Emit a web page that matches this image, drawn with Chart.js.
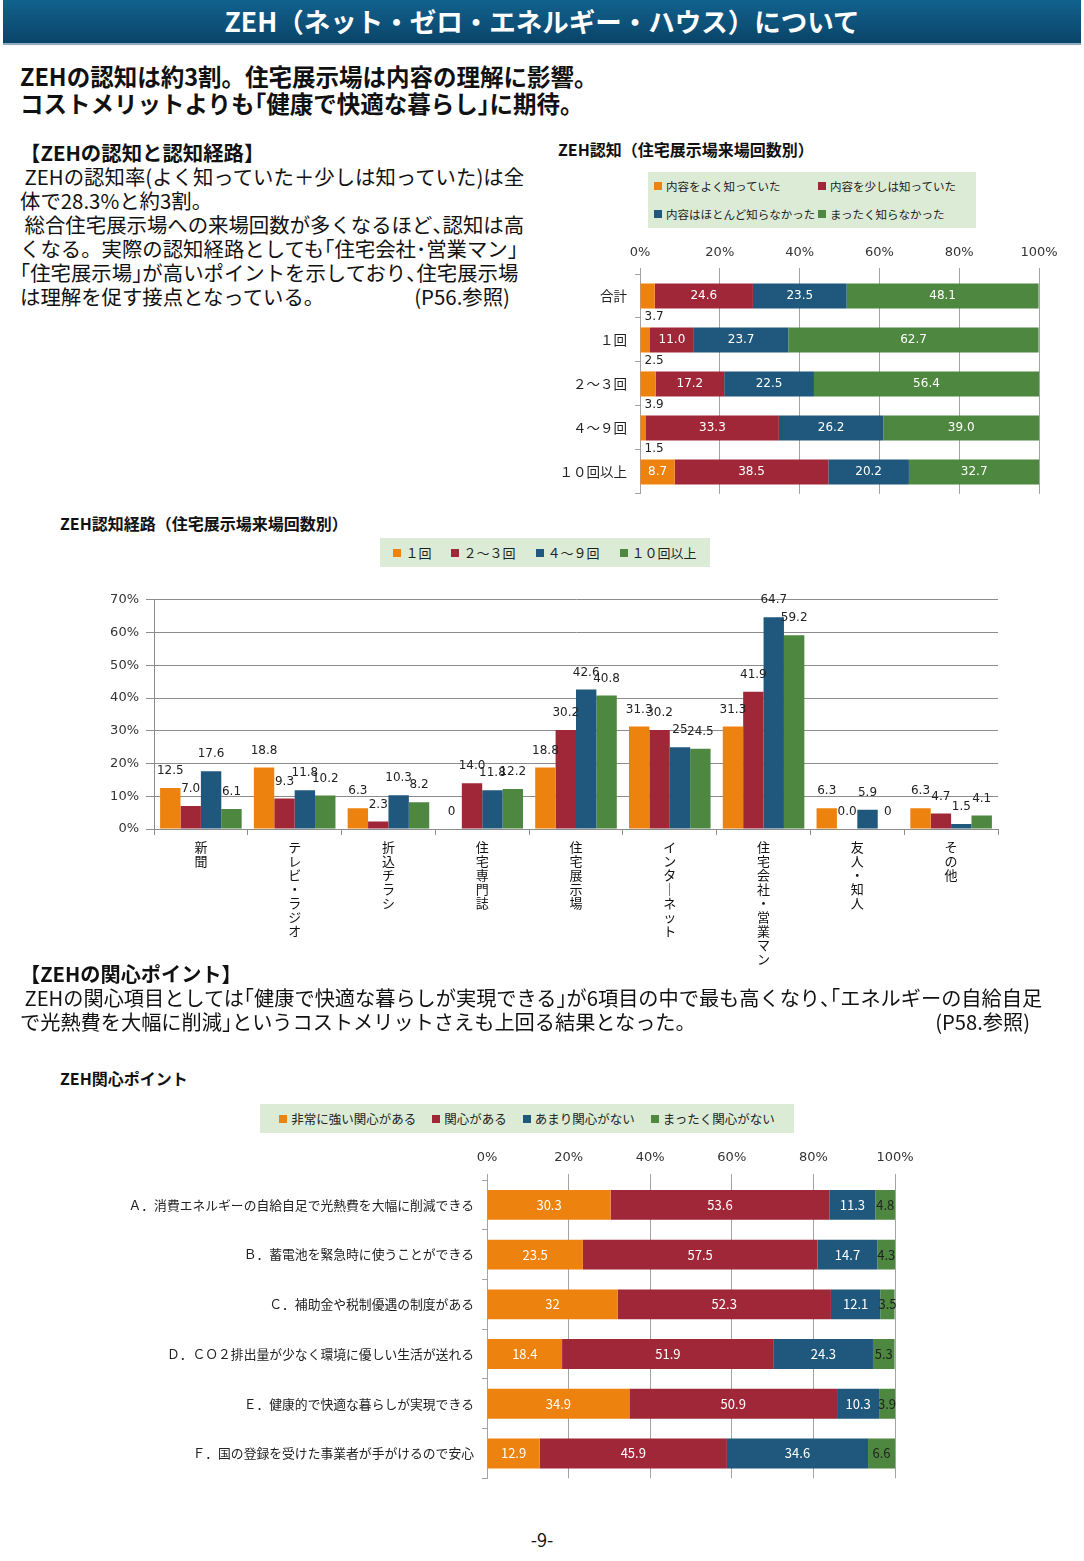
<!DOCTYPE html>
<html lang="ja">
<head>
<meta charset="utf-8">
<title>ZEH（ネット・ゼロ・エネルギー・ハウス）について</title>
<script src="https://cdn.jsdelivr.net/npm/chart.js@4.4.1/dist/chart.umd.min.js"></script>
<style>
  body { margin: 0; width: 1084px; height: 1561px; position: relative; background: #fff; font-family: "Noto Sans CJK JP", sans-serif; color: #111; overflow: hidden; }
  .abs { position: absolute; }
  .header { left: 3px; top: 0; width: 1078px; height: 43px; background: linear-gradient(#11628f, #0a4468); border-bottom: 2px solid #93abbf; color: #fff; font-weight: bold; font-size: 26.5px; line-height: 42px; text-align: center; }
  .headline { left: 20px; top: 63px; font-weight: bold; font-size: 23.5px; line-height: 27px; white-space: nowrap; }
  .para { font-size: 20.4px; line-height: 24px; white-space: nowrap; }
  .ref { position: absolute; right: 0; }
  .h { font-feature-settings: "halt"; }
  .ctitle { font-weight: bold; font-size: 16px; line-height: 18px; white-space: nowrap; }
  .legend { background: #dcebd5; font-size: 13px; color: #222; white-space: nowrap; }
  .legend .item { display: inline-flex; align-items: center; }
  .legend i { display: inline-block; width: 8px; height: 8px; margin-right: 4px; }
  .legend1 { left: 648px; top: 172px; width: 322px; height: 56px; padding-left: 6px; display: grid; grid-template-columns: 164px 158px; grid-auto-rows: 28px; font-size: 11.5px; }
  .legend2 { left: 380px; top: 538px; width: 330px; height: 29px; display: flex; justify-content: center; align-items: center; gap: 20px; }
  .legend3 { left: 260px; top: 1104px; width: 534px; height: 29px; display: flex; justify-content: center; align-items: center; gap: 16px; font-size: 12.5px; }
  .box { position: absolute; }
  .page { left: 0; width: 1084px; top: 1526px; text-align: center; font-size: 18px; }
</style>
</head>
<body>
<div class="abs header">ZEH（ネット・ゼロ・エネルギー・ハウス）について</div>
<div class="abs headline tight">ZEHの認知は約3割。住宅展示場は内容の理解に影響。<br>コストメリットよりも「健康で快適な暮らし」に期待。</div>

<div class="abs para tight" style="left:20px; top:140px; width:490px;">
  <b>【ZEHの認知と認知経路】</b><br>
  &nbsp;ZEHの認知率(よく知っていた＋少しは知っていた)は全<br>
  体で28.3%と約3割。<br>
  &nbsp;総合住宅展示場への来場回数が多くなるほど、認知は高<br>
  くなる。実際の認知経路としても「住宅会社･営業マン」<br>
  「住宅展示場」が高いポイントを示しており、住宅展示場<br>
  は理解を促す接点となっている。<span class="ref">(P56.参照)</span>
</div>

<div class="abs ctitle" style="left:558px; top:140px;">ZEH認知（住宅展示場来場回数別）</div>
<div class="abs legend legend1" id="legend1"></div>
<div class="box" style="left:550px; top:240px; width:520px; height:270px;"><canvas id="chart1"></canvas></div>

<div class="abs ctitle" style="left:60px; top:514px;">ZEH認知経路（住宅展示場来場回数別）</div>
<div class="abs legend legend2" id="legend2"></div>
<div class="box" style="left:90px; top:585px; width:920px; height:385px;"><canvas id="chart2"></canvas></div>

<div class="abs para tight" style="left:20px; top:962px; width:1010px; font-size:20.2px;">
  <b>【ZEHの関心ポイント】</b><br>
  &nbsp;ZEHの関心項目としては「健康で快適な暮らしが実現できる」が6項目の中で最も高くなり、「エネルギーの自給自足<br>
  で光熱費を大幅に削減」というコストメリットさえも上回る結果となった。<span class="ref">(P58.参照)</span>
</div>

<div class="abs ctitle" style="left:60px; top:1069px;">ZEH関心ポイント</div>
<div class="abs legend legend3" id="legend3"></div>
<div class="box" style="left:110px; top:1140px; width:820px; height:354px;"><canvas id="chart3"></canvas></div>

<div class="abs page">-9-</div>

<script>
// colours shared by all three charts (series order)
const seriesColors = ['#ee820e', '#a02738', '#1f587c', '#4e8840'];

// chart 1: ZEH認知（住宅展示場来場回数別）
const awareCategories = ['合計', '１回', '２～３回', '４～９回', '１０回以上'];
const awareSeries = ['内容をよく知っていた', '内容を少しは知っていた', '内容はほとんど知らなかった', 'まったく知らなかった'];
const awareWell = ['3.7', '2.5', '3.9', '1.5', '8.7'];
const awareLittle = ['24.6', '11.0', '17.2', '33.3', '38.5'];
const awareHardly = ['23.5', '23.7', '22.5', '26.2', '20.2'];
const awareNone = ['48.1', '62.7', '56.4', '39.0', '32.7'];

// chart 2: ZEH認知経路（住宅展示場来場回数別）
const routeCategories = ['新聞', 'テレビ・ラジオ', '折込チラシ', '住宅専門誌', '住宅展示場', 'インターネット', '住宅会社・営業マン', '友人・知人', 'その他'];
const routeSeries = ['１回', '２～３回', '４～９回', '１０回以上'];
const routeOnce = ['12.5', '18.8', '6.3', '0', '18.8', '31.3', '31.3', '6.3', '6.3'];
const routeTwoThree = ['7.0', '9.3', '2.3', '14.0', '30.2', '30.2', '41.9', '0.0', '4.7'];
const routeFourNine = ['17.6', '11.8', '10.3', '11.8', '42.6', '25', '64.7', '5.9', '1.5'];
const routeTenPlus = ['6.1', '10.2', '8.2', '12.2', '40.8', '24.5', '59.2', '0', '4.1'];

// chart 3: ZEH関心ポイント
const interestCategories = [
  'Ａ．消費エネルギーの自給自足で光熱費を大幅に削減できる',
  'Ｂ．蓄電池を緊急時に使うことができる',
  'Ｃ．補助金や税制優遇の制度がある',
  'Ｄ．ＣＯ２排出量が少なく環境に優しい生活が送れる',
  'Ｅ．健康的で快適な暮らしが実現できる',
  'Ｆ．国の登録を受けた事業者が手がけるので安心'
];
const interestSeries = ['非常に強い関心がある', '関心がある', 'あまり関心がない', 'まったく関心がない'];
const interestStrong = ['30.3', '23.5', '32', '18.4', '34.9', '12.9'];
const interestSome = ['53.6', '57.5', '52.3', '51.9', '50.9', '45.9'];
const interestLittle = ['11.3', '14.7', '12.1', '24.3', '10.3', '34.6'];
const interestNone = ['4.8', '4.3', '3.5', '5.3', '3.9', '6.6'];

const percentTicks = [0, 20, 40, 60, 80, 100];

// brackets and commas set half width, like the original layout
document.querySelectorAll('.tight').forEach(function (el) {
  el.innerHTML = el.innerHTML.replace(/([「」、])/g, '<span class="h">$1</span>');
});

Chart.defaults.font.family = '"DejaVu Sans", "Noto Sans CJK JP", sans-serif';
Chart.defaults.color = '#222';
Chart.defaults.animation = false;

const jpFont = '"Noto Sans CJK JP", sans-serif';

const makeLegend = function (id, names) {
  const box = document.getElementById(id);
  names.forEach(function (name, i) {
    const item = document.createElement('span');
    item.className = 'item';
    const mark = document.createElement('i');
    mark.style.background = seriesColors[i];
    item.appendChild(mark);
    item.appendChild(document.createTextNode(name));
    box.appendChild(item);
  });
};

const makeDatasets = function (names, lists) {
  return lists.map(function (list, i) {
    return { label: names[i], data: list, backgroundColor: seriesColors[i], borderWidth: 0 };
  });
};

// draws the value text of every bar; place() decides where
const makeLabels = function (font, place) {
  return {
    id: 'barLabels',
    afterDatasetsDraw: function (chart) {
      const ctx = chart.ctx;
      ctx.save();
      ctx.font = font;
      ctx.textBaseline = 'middle';
      chart.data.datasets.forEach(function (ds, di) {
        chart.getDatasetMeta(di).data.forEach(function (bar, i) {
          const p = place(bar, di, Number(ds.data[i]));
          ctx.fillStyle = p.color;
          ctx.textAlign = p.align || 'center';
          ctx.fillText(String(ds.data[i]), p.x, p.y);
        });
      });
      ctx.restore();
    }
  };
};

const vertical = function (text) {
  return text.split('').map(function (ch) { return ch === 'ー' ? '｜' : ch; });
};

const fixWidth = function (w) { return function (scale) { scale.width = w; }; };
const fixHeight = function (h) { return function (scale) { scale.height = h; }; };

const topPercentAxis = function (pad, gridColor) {
  return {
    position: 'top', min: 0, max: 100, stacked: true,
    afterBuildTicks: function (scale) { scale.ticks = percentTicks.map(function (v) { return { value: v }; }); },
    ticks: { callback: function (v) { return v + '%'; }, font: { size: 13 }, color: '#333', padding: pad },
    grid: { color: gridColor, tickLength: 6 },
    border: { display: false }
  };
};

makeLegend('legend1', awareSeries);
makeLegend('legend2', routeSeries);
makeLegend('legend3', interestSeries);

new Chart(document.getElementById('chart1'), {
  type: 'bar',
  data: { labels: awareCategories, datasets: makeDatasets(awareSeries, [awareWell, awareLittle, awareHardly, awareNone]) },
  options: {
    indexAxis: 'y', responsive: true, maintainAspectRatio: false,
    layout: { padding: { right: 31 } },
    datasets: { bar: { categoryPercentage: 1, barPercentage: 0.57 } },
    plugins: { legend: { display: false }, tooltip: { enabled: false } },
    scales: {
      x: Object.assign(topPercentAxis(8, '#a3a3a3'), { afterFit: fixHeight(34) }),
      y: {
        stacked: true, afterFit: fixWidth(90),
        ticks: { font: { size: 13.5, family: jpFont }, color: '#222', padding: 8, autoSkip: false },
        grid: { offset: true, drawOnChartArea: false, tickLength: 5, color: '#a3a3a3' },
        border: { color: '#a3a3a3' }
      }
    }
  },
  plugins: [makeLabels('12px "DejaVu Sans"', function (bar, di, v) {
    if (di === 0 && v < 5) return { x: bar.base + 4, y: bar.y + bar.height / 2 + 8, color: '#222', align: 'left' };
    return { x: (bar.x + bar.base) / 2, y: bar.y, color: '#fff' };
  })]
});

new Chart(document.getElementById('chart2'), {
  type: 'bar',
  data: { labels: routeCategories.map(vertical), datasets: makeDatasets(routeSeries, [routeOnce, routeTwoThree, routeFourNine, routeTenPlus]) },
  options: {
    responsive: true, maintainAspectRatio: false,
    layout: { padding: { top: 14, right: 12 } },
    datasets: { bar: { categoryPercentage: 0.87, barPercentage: 1 } },
    plugins: { legend: { display: false }, tooltip: { enabled: false } },
    scales: {
      x: {
        afterFit: fixHeight(141),
        ticks: { font: { size: 13, family: jpFont, lineHeight: '14px' }, color: '#111', padding: 5, autoSkip: false, maxRotation: 0 },
        grid: { offset: true, drawOnChartArea: false, tickLength: 6, color: '#8c8c8c' },
        border: { color: '#8c8c8c' }
      },
      y: {
        min: 0, max: 70, afterFit: fixWidth(64),
        ticks: { stepSize: 10, callback: function (v) { return v + '%'; }, font: { size: 13 }, color: '#333', padding: 7 },
        grid: { color: '#8c8c8c', tickLength: 8 },
        border: { color: '#8c8c8c' }
      }
    }
  },
  plugins: [makeLabels('12px "DejaVu Sans"', function (bar) {
    return { x: bar.x, y: bar.y - 17, color: '#222' };
  })]
});

new Chart(document.getElementById('chart3'), {
  type: 'bar',
  data: { labels: interestCategories, datasets: makeDatasets(interestSeries, [interestStrong, interestSome, interestLittle, interestNone]) },
  options: {
    indexAxis: 'y', responsive: true, maintainAspectRatio: false,
    layout: { padding: { right: 35 } },
    datasets: { bar: { categoryPercentage: 1, barPercentage: 0.6 } },
    plugins: { legend: { display: false }, tooltip: { enabled: false } },
    scales: {
      x: Object.assign(topPercentAxis(9, '#a3a3a3'), { afterFit: fixHeight(40) }),
      y: {
        stacked: true, afterFit: fixWidth(377),
        ticks: { font: { size: 12.8, family: jpFont }, color: '#222', padding: 8, autoSkip: false },
        grid: { offset: true, drawOnChartArea: false, tickLength: 5, color: '#a3a3a3' },
        border: { color: '#a3a3a3' }
      }
    }
  },
  plugins: [makeLabels('13px "Noto Sans CJK JP"', function (bar, di) {
    return { x: (bar.x + bar.base) / 2, y: bar.y, color: di === 3 ? '#222' : '#fff' };
  })]
});
</script>
</body>
</html>
